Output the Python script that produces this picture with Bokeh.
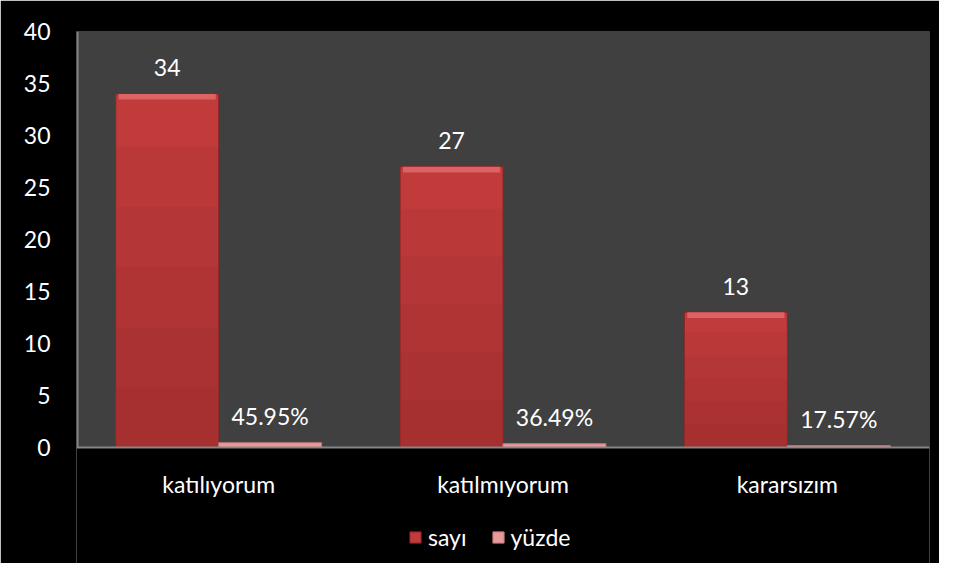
from bokeh.plotting import figure
from bokeh.models import (ColumnDataSource, Legend, LegendItem, LabelSet, Range1d,
                          FactorRange, FixedTicker, BoxAnnotation)
from bokeh.core.properties import value
from bokeh.transform import dodge
from bokeh.embed import file_html
from bokeh.resources import INLINE

categories = ["katılıyorum", "katılmıyorum", "kararsızım"]
sayi = [34, 27, 13]
yuzde = [0.4595, 0.3649, 0.1757]
sayi_labels = ["34", "27", "13"]
yuzde_labels = ["45.95%", "36.49%", "17.57%"]
y_ticks = [0, 5, 10, 15, 20, 25, 30, 35, 40]
series_names = ["sayı", "yüzde"]

FONT = "Lato"
FS = "23px"
BAR_W = 0.362
OFF = BAR_W / 2
RED, RED_LINE, RED_HI, RED_DARK = "#C13B3B", "#8A2526", "#DC6263", "#6E1A1A"
PINK, PINK_LINE = "#E8999A", "#C07878"
AXIS_GRAY = "#868686"

# geometry: frame spans from top border down to figure bottom
W, H = 939, 563
TOP, LEFT, RIGHT = 31, 76, 10
PLOT_PX = 416                      # pixel height of the 0..40 value area
Y_MAX = max(y_ticks)
px_per_unit = PLOT_PX / Y_MAX
Y_MIN = Y_MAX - (H - TOP) / px_per_unit

src = ColumnDataSource(dict(
    cat=categories, sayi=sayi, yuzde=yuzde,
    sayi_hi=[v - 0.55 for v in sayi],
    sayi_lbl=sayi_labels, yuzde_lbl=yuzde_labels,
    zero=[0] * len(categories),
))

p = figure(x_range=FactorRange(*categories), y_range=Range1d(Y_MIN, Y_MAX),
           width=W, height=H, output_backend="svg", toolbar_location=None,
           x_axis_location=None,
           min_border_left=LEFT, min_border_right=RIGHT, min_border_top=TOP, min_border_bottom=0)
p.background_fill_color = "black"
p.border_fill_color = "black"
p.outline_line_color = None
p.grid.grid_line_color = None

# plot area background (value range 0..40)
p.add_layout(BoxAnnotation(bottom=0, top=Y_MAX, fill_color="#404040", fill_alpha=1,
                           line_color=None, level="underlay"))

r1 = p.vbar(x=dodge("cat", -OFF, range=p.x_range), top="sayi", width=BAR_W, source=src,
            fill_color=RED, line_color=RED_LINE, line_width=1)
# soft shading toward the bottom of the red bars
for k in (0.85, 0.68, 0.51, 0.34, 0.17):
    shade = ColumnDataSource(dict(cat=categories, top=[v * k for v in sayi]))
    p.vbar(x=dodge("cat", -OFF, range=p.x_range), top="top", source=shade,
           width=BAR_W - 0.006, fill_color=RED_DARK, fill_alpha=0.07, line_color=None)
# bevel highlight on top
p.vbar(x=dodge("cat", -OFF, range=p.x_range), top="sayi", bottom="sayi_hi", width=BAR_W - 0.02,
       source=src, fill_color=RED_HI, line_color=None)
r2 = p.vbar(x=dodge("cat", OFF, range=p.x_range), top="yuzde", width=BAR_W, source=src,
            fill_color=PINK, line_color=PINK_LINE, line_width=1)

# x axis line
p.hspan(y=[0], line_color=AXIS_GRAY, line_width=2)

lab1 = LabelSet(x=dodge("cat", -OFF, range=p.x_range), y="sayi", text="sayi_lbl", source=src,
                y_offset=26, text_align="center", text_baseline="middle",
                text_color="white", text_font=value(FONT), text_font_size=FS)
lab2 = LabelSet(x=dodge("cat", OFF, range=p.x_range), y="yuzde", text="yuzde_lbl", source=src,
                y_offset=27, text_align="center", text_baseline="middle",
                text_color="white", text_font=value(FONT), text_font_size=FS)
p.add_layout(lab1)
p.add_layout(lab2)

# category labels under the value area
p.text(x="cat", y="zero", text="cat", source=src, y_offset=36,
       text_align="center", text_baseline="middle", text_color="white",
       text_font=value(FONT), text_font_size=FS)

p.yaxis.ticker = FixedTicker(ticks=y_ticks)
p.yaxis.axis_line_color = None
p.yaxis.major_tick_line_color = None
p.yaxis.minor_tick_line_color = None
p.yaxis.major_tick_out = 0
p.yaxis.major_tick_in = 0
p.yaxis.major_label_text_color = "white"
p.yaxis.major_label_text_font = FONT
p.yaxis.major_label_text_font_size = FS
p.yaxis.major_label_standoff = 26

# left axis line from 0 to 40 at the left edge of the frame
p.add_layout(BoxAnnotation(bottom=0, top=Y_MAX, left_units="screen", right_units="screen",
                           left=0, right=2, fill_color=AXIS_GRAY, fill_alpha=1,
                           line_color=None, level="overlay"))

legend = Legend(items=[LegendItem(label=series_names[0], renderers=[r1]),
                       LegendItem(label=series_names[1], renderers=[r2])],
                orientation="horizontal", location=(332, 12),
                background_fill_alpha=0, border_line_color=None,
                label_text_color="white", label_text_font=FONT, label_text_font_size=FS,
                glyph_width=14, glyph_height=14, spacing=24, label_standoff=6,
                margin=0, padding=4)
p.add_layout(legend, "center")

open("out.html", "w").write(file_html(p, INLINE))
